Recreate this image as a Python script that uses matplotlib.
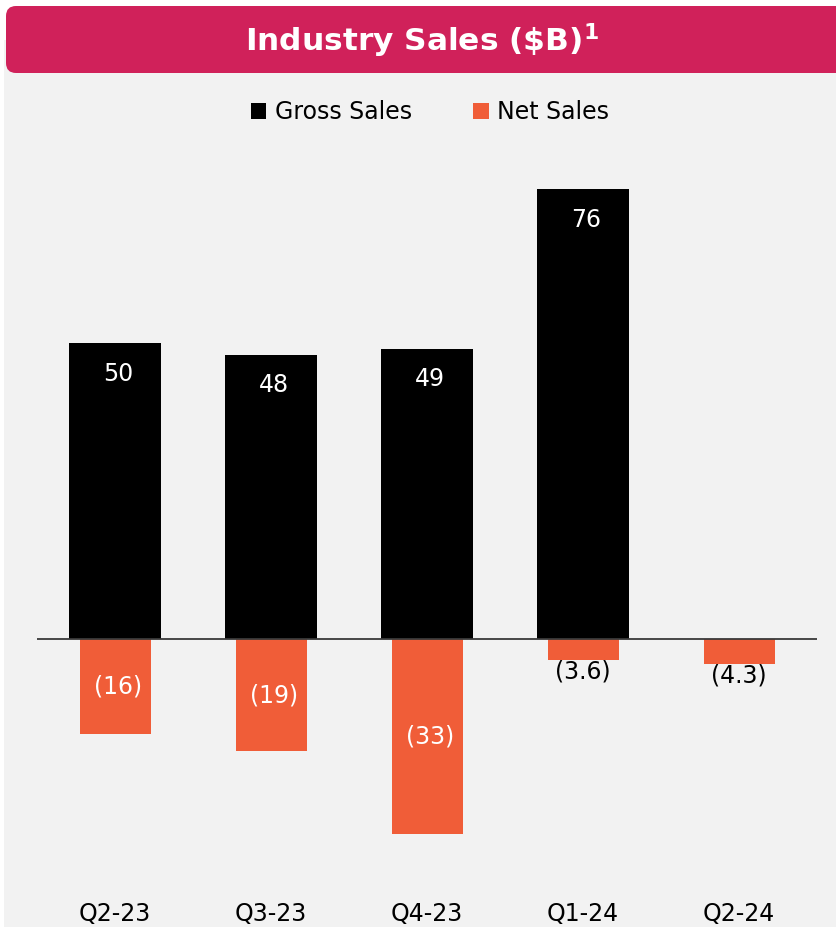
import numpy as np
import matplotlib
matplotlib.use("Agg")
import matplotlib.pyplot as plt
from matplotlib.patches import FancyBboxPatch, Rectangle

quarters = ["Q2-23", "Q3-23", "Q4-23", "Q1-24", "Q2-24"]
gross_sales = [50, 48, 49, 76, np.nan]
net_sales = [-16, -19, -33, -3.6, -4.3]
net_labels = ["(16)", "(19)", "(33)", "(3.6)", "(4.3)"]

BANNER = "#D0215A"
ORANGE = "#F05D38"
BG = "#F2F2F2"

plt.rcParams["font.family"] = ["DejaVu Sans"]

W, H = 836, 927
fig = plt.figure(figsize=(W / 100, H / 100), dpi=100, facecolor="white")

# gray panel + title banner
fig.patches.append(Rectangle((4 / W, 0), 1, 1 - 40 / H, transform=fig.transFigure,
                             facecolor=BG, edgecolor="none", zorder=-2))
fig.patches.append(FancyBboxPatch((6 / W, 1 - 73 / H), 840 / W, 67 / H,
                                  boxstyle="round,pad=0,rounding_size=0.012",
                                  transform=fig.transFigure, facecolor=BANNER,
                                  edgecolor="none", zorder=-1, mutation_aspect=W / H))
fig.text(422 / W, 1 - 41 / H, r"Industry Sales (\$B)$^{\mathregular{1}}$", color="white",
         fontsize=22.5, fontweight="bold", ha="center", va="center")

# axes area in pixels
left, right, top, bottom = 37, 817, 160, 860
ax = fig.add_axes([left / W, 1 - bottom / H, (right - left) / W, (bottom - top) / H])
ax.set_facecolor("none")

x = np.arange(len(quarters))
gb = ax.bar(x, gross_sales, width=92 / 156, color="black", zorder=2, label="Gross Sales")
nb = ax.bar(x, net_sales, width=71 / 156, color=ORANGE, zorder=3, label="Net Sales")
ax.axhline(0, color="#3a3a3a", lw=1.3, zorder=4)

ax.set_xlim(-0.5, 4.5)
px = 5.92
ax.set_ylim(-(bottom - 639) / px, (639 - top) / px)

for xi, g in zip(x, gross_sales):
    if np.isnan(g):
        continue
    ax.annotate(f"{g:.0f}", (xi + 0.02, g), xytext=(0, -22), textcoords="offset points",
                ha="center", va="center", color="white", fontsize=17)

for xi, n, lab in zip(x, net_sales, net_labels):
    if abs(n) >= 10:
        ax.text(xi + 0.02, n / 2, lab, ha="center", va="center", color="white", fontsize=17)
    else:
        ax.annotate(lab, (xi, n), xytext=(0, -8), textcoords="offset points",
                    ha="center", va="center", color="black", fontsize=17)

ax.set_xticks(x)
ax.set_xticklabels(quarters, fontsize=17)
ax.tick_params(axis="x", length=0, pad=30)
ax.set_yticks([])
for s in ax.spines.values():
    s.set_visible(False)

leg = fig.legend(handles=[gb, nb], loc="center", bbox_to_anchor=(430 / W, 1 - 112 / H),
                 ncol=2, frameon=False, fontsize=17, handlelength=0.65, handleheight=0.65,
                 handletextpad=0.35, columnspacing=2.6)

fig.savefig("out.png", dpi=100, facecolor=fig.get_facecolor())
